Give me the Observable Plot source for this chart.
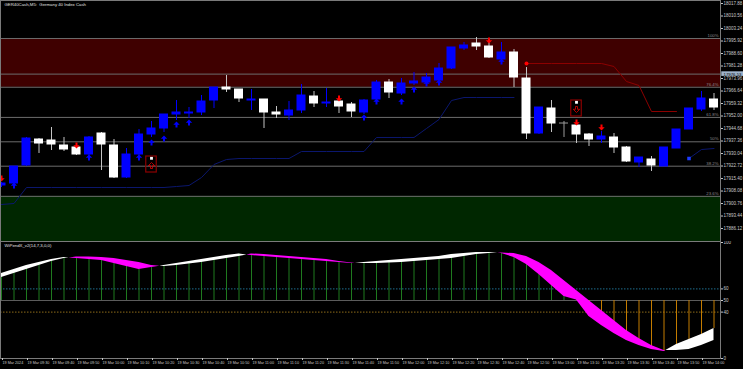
<!DOCTYPE html>
<html><head><meta charset="utf-8">
<script src="https://cdn.jsdelivr.net/npm/d3@7"></script>
<script src="https://cdn.jsdelivr.net/npm/@observablehq/plot@0.6"></script>
<style>
html,body{margin:0;padding:0;background:#000;}
#chart{width:743px;height:369px;overflow:hidden;background:#000;}
#chart svg{display:block;}
</style></head><body><div id="chart"></div>
<script>
// ---- data ----
const symbolTitle = "GER40Cash,M5:  Germany 40 Index Cash";
const indicatorTitle = "WiPendX_v2(14,7,3,0,0)";
const opens = [17911.31,17912.48,17923.02,17938.24,17937.66,17934.73,17933.56,17929.46,17941.76,17934.73,
  17915.99,17929.46,17941.17,17944.69,17952.88,17953.47,17954.06,17961.08,17968.69,17967.52,
  17961.08,17961.67,17954.06,17952.30,17955.23,17963.42,17959.33,17960.50,17958.74,17954.06,
  17961.67,17971.62,17965.18,17971.04,17971.62,17972.79,17979.82,17991.53,17994.46,17992.70,
  17985.09,17989.19,17973.96,17941.76,17956.40,17947.61,17946.44,17941.17,17938.24,17939.42,
  17933.56,17924.78,17926.53,17922.43,17932.97,17944.10,17955.81,17961.67];
const highs = [17913.07,17922.43,17939.42,17938.83,17945.27,17939.42,17934.15,17940.00,17942.34,17938.24,
  17932.97,17944.10,17948.79,17952.88,17961.08,17956.98,17964.01,17968.69,17975.72,17967.52,
  17967.52,17961.67,17957.57,17960.50,17970.45,17966.35,17968.11,17961.08,17959.91,17961.67,
  17972.79,17973.38,17973.96,17977.48,17976.89,17982.75,17992.12,17995.05,17997.97,17995.05,
  17995.05,17990.95,17980.41,17956.98,17961.08,17948.79,17947.03,17941.76,17942.93,17941.76,
  17934.15,17927.70,17928.29,17933.56,17944.10,17956.40,17966.35,17965.18];
const lows = [17910.14,17911.31,17922.43,17930.05,17931.80,17931.22,17928.88,17928.29,17920.09,17915.41,
  17915.41,17927.12,17939.42,17942.34,17949.37,17950.54,17952.30,17956.40,17965.77,17959.91,
  17955.23,17944.69,17950.54,17949.37,17953.47,17956.98,17956.98,17953.47,17951.13,17952.88,
  17960.50,17962.25,17964.01,17969.87,17971.04,17972.21,17979.23,17990.36,17990.36,17985.68,
  17983.92,17968.69,17938.24,17941.17,17942.34,17939.42,17935.90,17934.15,17935.90,17930.05,
  17924.78,17921.85,17919.51,17922.43,17932.97,17944.10,17954.64,17955.23];
const closes = [17912.48,17922.43,17938.83,17935.90,17935.32,17932.39,17929.46,17939.42,17935.32,17915.99,
  17929.46,17941.17,17944.69,17952.88,17954.06,17954.06,17960.50,17968.69,17967.52,17962.25,
  17961.67,17954.06,17952.88,17955.23,17964.01,17959.33,17959.91,17957.57,17954.64,17961.08,
  17971.62,17965.77,17971.04,17972.21,17974.55,17979.82,17992.12,17993.29,17992.70,17986.26,
  17989.19,17974.55,17941.76,17956.98,17947.61,17947.61,17941.17,17938.24,17940.00,17933.56,
  17925.36,17927.70,17923.02,17933.56,17944.10,17956.40,17962.25,17956.98];
const blueTrail = [17900.18,17900.77,17910.14,17910.14,17910.14,17910.14,17910.14,17910.14,17910.14,17910.14,
  17910.14,17910.14,17910.14,17910.14,17910.72,17911.31,17915.99,17923.60,17926.53,17927.12,
  17927.12,17927.12,17927.12,17927.12,17931.22,17931.22,17931.22,17931.22,17931.22,17931.22,
  17939.42,17939.42,17939.42,17939.42,17944.69,17949.96,17961.08,17962.84,17962.84,17962.84,
  17962.84,17962.84,null,null,null,null,null,null,null,null,
  null,null,null,null,null,17927.12,17932.39,17932.97];
const redTrail = [null,null,null,null,null,null,null,null,null,null,
  null,null,null,null,null,null,null,null,null,null,
  null,null,null,null,null,null,null,null,null,null,
  null,null,null,null,null,null,null,null,null,null,
  null,null,17982.75,17982.75,17982.75,17982.75,17982.75,17982.75,17982.75,17980.99,
  17972.21,17969.87,17954.64,17954.64,17954.64,null,null,null];
const trailStartBlue = [55];
const trailStartRed = [42];
const sellBars = [0, 6, 27, 39, 46, 48];
const sellPrices = [17915.41, 17934.73, 17962.25, 17996.22, 17948.20, 17945.27];
const buyBars = [1, 7, 11, 12, 13, 14, 15, 29, 30, 32, 33, 34, 35, 40];
const buyPrices = [17911.31, 17927.70, 17927.70, 17936.49, 17938.83, 17947.03, 17948.20, 17951.13, 17960.50, 17960.50, 17967.52, 17971.04, 17971.62, 17983.92];
const signalBars = [12, 46];
const signalTop = [17928.29, 17961.08];
const signalBottom = [17918.92, 17951.71];
const signalDir = ["up", "down"];
const fibLabels = ["100%", "76.4%", "61.8%", "50%", "38.2%", "23.6%"];
const fibPrices = [17997.39, 17968.84, 17951.18, 17936.90, 17922.62, 17904.96];
const zoneTop = [17997.39, 17904.96];
const zoneBottom = [17968.84, 17876.40];
const markPrice = 17976.53;
const priceTicks = [18017.88,18010.56,18003.24,17995.92,17988.60,17981.28,17973.96,17966.64,17959.32,17952.00,
  17944.68,17937.36,17930.04,17922.72,17915.40,17908.08,17900.76,17893.44,17886.12];
const fastLine = [73.3,76.7,80.2,82.8,85.3,87.1,86.2,85.3,84.5,81.9,
  79.3,76.7,78.4,80.2,81.9,83.6,85.3,87.1,88.8,90.1,
  88.8,87.9,87.1,86.2,85.3,84.5,83.6,82.8,81.9,82.8,
  83.6,84.5,85.3,86.2,87.1,87.9,89.7,90.5,91.4,91.4,
  90.5,87.1,81.0,72.4,62.9,53.4,50.5,36.2,28.4,21.6,
  15.5,11.2,7.8,6.0,12.1,16.4,20.7,25.9];
const slowLine = [69.8,73.3,76.7,80.2,83.6,86.2,87.5,87.5,87.1,86.2,
  84.5,82.8,80.2,79.3,80.2,81.5,82.8,84.5,86.2,87.9,
  90.1,89.7,88.8,87.9,87.1,86.2,85.3,83.6,82.3,81.9,
  81.9,82.3,82.8,83.6,84.5,85.3,86.2,87.9,89.7,90.5,
  90.9,90.5,87.9,82.8,75.9,67.2,58.6,50.0,41.4,32.8,
  24.1,17.2,11.2,6.9,6.9,7.8,11.2,15.5];
const indTicks = [100, 60, 50, 40, 0];
const timeTickBars = [0,2,4,6,8,10,12,14,16,18,20,22,24,26,28,30,32,34,36,38,40,42,44,46,48,50,52,54,56];
const timeTickLabels = ["19 Mar 2024","19 Mar 09:30","19 Mar 09:40","19 Mar 09:50","19 Mar 10:00","19 Mar 10:10",
  "19 Mar 10:20","19 Mar 10:30","19 Mar 10:40","19 Mar 10:50","19 Mar 11:00","19 Mar 11:10","19 Mar 11:20",
  "19 Mar 11:30","19 Mar 11:40","19 Mar 11:50","19 Mar 12:00","19 Mar 12:10","19 Mar 12:20","19 Mar 12:30",
  "19 Mar 12:40","19 Mar 12:50","19 Mar 13:00","19 Mar 13:10","19 Mar 13:20","19 Mar 13:30","19 Mar 13:40",
  "19 Mar 13:50","19 Mar 14:00"];

// ---- derived tables ----
const candles = opens.map((o, i) => ({i, o, h: highs[i], l: lows[i], c: closes[i]}));
const trail = opens.map((_, i) => ({i, b: blueTrail[i], r: redTrail[i]}));
const sells = sellBars.map((i, k) => ({i, p: sellPrices[k]}));
const buys = buyBars.map((i, k) => ({i, p: buyPrices[k]}));
const signals = signalBars.map((i, k) => ({i, top: signalTop[k], bottom: signalBottom[k], dir: signalDir[k], mid: (signalTop[k] + signalBottom[k]) / 2}));
const fibs = fibLabels.map((label, k) => ({label, price: fibPrices[k]}));
const zones = [{y1: zoneTop[0], y2: zoneBottom[0], fill: "#3f0000"}, {y1: zoneTop[1], y2: zoneBottom[1], fill: "#002700"}];
const ind = fastLine.map((a, i) => ({i, a, b: slowLine[i]}));

// ribbon segments split at crossings
const ribbon = [];
let seg = 0;
for (let i = 0; i < ind.length; i++) {
  const d = ind[i];
  const col = d.a >= d.b ? "#ffffff" : "#ff00ff";
  ribbon.push({x: i, a: d.a, b: d.b, seg, fill: col});
  if (i + 1 < ind.length) {
    const n = ind[i + 1];
    const d0 = d.a - d.b, d1 = n.a - n.b;
    if ((d0 >= 0) !== (d1 >= 0)) {
      const t = d0 / (d0 - d1);
      const y = d.a + t * (n.a - d.a);
      ribbon.push({x: i + t, a: y, b: y, seg, fill: col});
      seg++;
      ribbon.push({x: i + t, a: y, b: y, seg, fill: d1 >= 0 ? "#ffffff" : "#ff00ff"});
    }
  }
}

const bodyColor = d => d.c > d.o ? "#0000ff" : d.c < d.o ? "#ffffff" : "#9a9a9a";
const wickColor = d => d.c > d.o ? "#0000ff" : d.c < d.o ? "#c4c4c4" : "#9a9a9a";
const arrowUp = {draw(ctx) { ctx.moveTo(0,-3); ctx.lineTo(3.2,0.2); ctx.lineTo(1,0.2); ctx.lineTo(1,3); ctx.lineTo(-1,3); ctx.lineTo(-1,0.2); ctx.lineTo(-3.2,0.2); ctx.closePath(); }};
const arrowDown = {draw(ctx) { ctx.moveTo(0,3); ctx.lineTo(3.2,-0.2); ctx.lineTo(1,-0.2); ctx.lineTo(1,-3); ctx.lineTo(-1,-3); ctx.lineTo(-1,-0.2); ctx.lineTo(-3.2,-0.2); ctx.closePath(); }};

const font = "'Liberation Sans', Arial, sans-serif";
const xScale = {domain: [-0.08, 57.52], range: [0, 720], axis: null};

const main = Plot.plot({
  width: 743, height: 241,
  marginTop: 0, marginRight: 23, marginBottom: 0, marginLeft: 0,
  style: {background: "#000", color: "#c8c8c8", fontFamily: font, fontSize: "5px"},
  x: xScale,
  y: {domain: [17878.52, 18019.64], range: [241, 0], axis: null},
  color: {type: "identity"},
  marks: [
    Plot.rect(zones, {y1: "y1", y2: "y2", fill: "fill"}),
    Plot.ruleY(fibs, {y: "price", stroke: "#6c6c6c"}),
    Plot.ruleY([markPrice], {stroke: "#6c6c6c"}),
    Plot.text(fibs, {y: "price", text: "label", frameAnchor: "right", textAnchor: "end", dx: -2, dy: -3, fontSize: 4.3, fill: "#8a8a8a"}),
    Plot.line(trail, {x: "i", y: "b", stroke: "#0b176e", strokeWidth: 1}),
    Plot.line(trail, {x: "i", y: "r", stroke: "#8c0000", strokeWidth: 1}),
    Plot.dot(trailStartRed, {x: d => d, y: d => redTrail[d], r: 2, fill: "#ff0000", stroke: "none"}),
    Plot.dot(trailStartBlue, {x: d => d, y: d => blueTrail[d], symbol: "square", r: 2, fill: "#1d3bff", stroke: "none"}),
    Plot.ruleX(candles, {x: "i", y1: "l", y2: "h", stroke: wickColor, strokeWidth: 1}),
    Plot.rect(candles, {x1: d => d.i - 0.36, x2: d => d.i + 0.36, y1: "o", y2: "c", fill: bodyColor, insetTop: -0.5, insetBottom: -0.5}),
    Plot.rect(signals, {x1: d => d.i - 0.42, x2: d => d.i + 0.42, y1: "bottom", y2: "top", fill: "none", stroke: "#8b0000", strokeWidth: 1.2}),
    Plot.dot(signals, {x: "i", y: "top", dy: 1.8, symbol: "square", r: 1.6, fill: "#ffffff", stroke: "none"}),
    Plot.dot(signals, {x: "i", y: "mid", dy: 1, symbol: d => d.dir === "up" ? arrowUp : arrowDown, fill: "none", stroke: "#e00000", strokeWidth: 0.8}),
    Plot.dot(sells, {x: "i", y: "p", symbol: arrowDown, fill: "#ff0000", stroke: "none"}),
    Plot.dot(buys, {x: "i", y: "p", symbol: arrowUp, fill: "#0000ff", stroke: "none"}),
    Plot.frame({stroke: "#7a7a7a"}),
    Plot.axisY(priceTicks, {anchor: "right", tickFormat: d => d.toFixed(2), tickSize: 2, tickPadding: 1, fontSize: 4.5, textAnchor: "start"}),
    Plot.rect([markPrice], {x1: 57.62, x2: 60, y1: d => d - 1.35, y2: d => d + 1.35, fill: "#9fb4cc"}),
    Plot.text([markPrice], {y: d => d, frameAnchor: "right", textAnchor: "start", dx: 3, text: d => d.toFixed(2), fill: "#000", fontSize: 4.3}),
    Plot.text([symbolTitle], {frameAnchor: "top-left", dx: 4, dy: 2, lineAnchor: "top", textAnchor: "start", fontSize: 4.3, fill: "#e0e0e0"})
  ]
});

const indPlot = Plot.plot({
  width: 743, height: 128,
  marginTop: 0, marginRight: 23, marginBottom: 11, marginLeft: 0,
  style: {background: "#000", color: "#c8c8c8", fontFamily: font, fontSize: "5px"},
  x: xScale,
  y: {domain: [0, 100], range: [117, 1], axis: null},
  color: {type: "identity"},
  marks: [
    Plot.ruleY([60], {stroke: "#1f6f8f", strokeDasharray: "1.5,1.5"}),
    Plot.ruleY([40], {stroke: "#8d6c1a", strokeDasharray: "1.5,1.5"}),
    Plot.ruleY([50], {stroke: "#5c5c5c"}),
    Plot.ruleX(ind, {x: "i", y1: 50, y2: "a", stroke: d => d.a >= 50 ? "#1f7a1f" : "#c47c00", strokeWidth: 1}),
    Plot.areaY(ribbon, {x: "x", y1: "a", y2: "b", z: "seg", fill: "fill"}),
    Plot.frame({stroke: "#7a7a7a"}),
    Plot.axisY(indTicks, {anchor: "right", tickSize: 2, tickPadding: 1, fontSize: 4.5, textAnchor: "start"}),
    Plot.axisX(timeTickBars, {anchor: "bottom", tickFormat: d => timeTickLabels[timeTickBars.indexOf(d)], tickSize: 2, tickPadding: 1, fontSize: 3.7, textAnchor: "start", dx: 1}),
    Plot.text([indicatorTitle], {frameAnchor: "top-left", dx: 4, dy: 2, lineAnchor: "top", textAnchor: "start", fontSize: 4.3, fill: "#e0e0e0"})
  ]
});

const root = document.getElementById("chart");
root.appendChild(main);
root.appendChild(indPlot);
</script>
</body></html>
